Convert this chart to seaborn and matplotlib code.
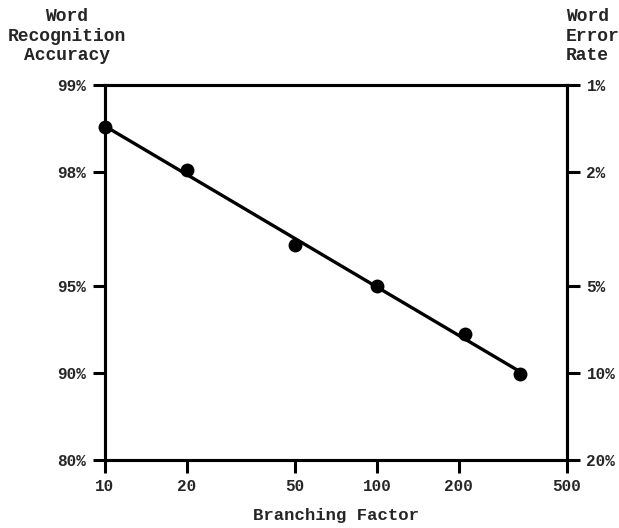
import numpy as np
import pandas as pd
import matplotlib
matplotlib.use("Agg")
import matplotlib.pyplot as plt
import seaborn as sns

# Measured recognition accuracy (%) against grammar branching factor
branching = [10, 20, 50, 100, 211, 336]
accuracy = [98.6, 98.03, 96.4, 95.0, 92.7, 89.9]

# Axis ticks
x_ticks = [10, 20, 50, 100, 200, 500]
x_labels = ["10", "20", "50", "100", "200", "500"]
acc_ticks = [99, 98, 95, 90, 80]
acc_labels = ["99%", "98%", "95%", "90%", "80%"]
err_labels = ["1%", "2%", "5%", "10%", "20%"]

df = pd.DataFrame({"branching": branching, "accuracy": accuracy})
df["error"] = 100 - df["accuracy"]

# Straight-line fit in log-log space (error rate vs branching factor)
slope, intercept = np.polyfit(np.log10(df["branching"]), np.log10(df["error"]), 1)
fit_x = np.array([df["branching"].min(), df["branching"].max()])
fit = pd.DataFrame({"branching": fit_x,
                    "error": 10 ** (intercept + slope * np.log10(fit_x))})

sns.set_theme(style="ticks")
plt.rcParams["font.family"] = ["Liberation Mono", "DejaVu Sans Mono"]
plt.rcParams["font.weight"] = "bold"

fig = plt.figure(figsize=(6.19, 5.28), dpi=100)
ax = fig.add_axes([105 / 619, 1 - 460 / 528, 462 / 619, 375 / 528])

sns.lineplot(data=fit, x="branching", y="error", ax=ax, color="black",
             linewidth=2.4, legend=False)
sns.scatterplot(data=df, x="branching", y="error", ax=ax, color="black",
                s=100, edgecolor="black", linewidth=0, zorder=3, legend=False,
                clip_on=False)

err_ticks = [100 - a for a in acc_ticks]

ax.set_xscale("log")
ax.set_yscale("log")
ax.set_xlim(10, 500)
ax.set_ylim(20, 1)
ax.set_xticks(x_ticks)
ax.set_xticklabels(x_labels)
ax.set_yticks(err_ticks)
ax.set_yticklabels(acc_labels)
ax.minorticks_off()
ax.set_xlabel("Branching Factor", fontsize=12.5, fontweight="bold", labelpad=10)
ax.set_ylabel("")

ax2 = ax.twinx()
ax2.set_yscale("log")
ax2.set_ylim(20, 1)
ax2.set_yticks(err_ticks)
ax2.set_yticklabels(err_labels)
ax2.minorticks_off()

for a in (ax, ax2):
    for sp in a.spines.values():
        sp.set_visible(True)
        sp.set_linewidth(2.2)
        sp.set_color("black")
    a.tick_params(axis="both", which="major", length=9, width=2.2,
                  color="black", labelsize=11.5, pad=5)
    for lbl in a.get_xticklabels() + a.get_yticklabels():
        lbl.set_fontweight("bold")

fig.text(67 / 619, 1 - 8 / 528, "Word\nRecognition\nAccuracy", ha="center",
         va="top", fontsize=13, fontweight="bold", linespacing=1.2)
fig.text(566 / 619, 1 - 8 / 528, "Word\nError\nRate", ha="left",
         va="top", fontsize=13, fontweight="bold", linespacing=1.2)

fig.savefig("out.png", dpi=100, facecolor="white")
